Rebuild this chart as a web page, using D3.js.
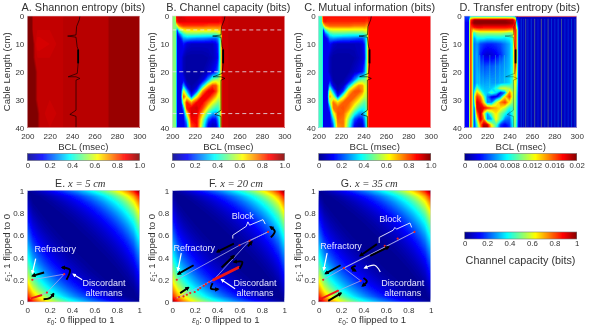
<!DOCTYPE html>
<html><head><meta charset="utf-8">
<script src="https://cdn.jsdelivr.net/npm/d3@7/dist/d3.min.js"></script>
<style>
html,body{margin:0;padding:0;background:#fff}
svg{display:block}
text{font-family:"Liberation Sans",Arial,sans-serif}
</style></head><body>
<svg id="chart" width="598" height="335"></svg>
<script>
// ---------- category / tick data ----------
const titles = ["A. Shannon entropy (bits)","B. Channel capacity (bits)","C. Mutual information  (bits)","D. Transfer entropy (bits)"];
const bclTicks = [200,220,240,260,280,300];
const cableTicks = [0,10,20,30,40];
const unitTicks = [0,0.2,0.4,0.6,0.8,1];
const barTicks = [0,0.2,0.4,0.6,0.8,1.0];
const teTicks = [0,0.004,0.008,0.012,0.016,0.02];
const dashedCable = [5,20,35];

// ---------- A: Shannon entropy (percent of 1 bit) ----------
const aCols = [200,204,205,207,209,211,220,232,243,244,272,273,300];
const aRows = [0,5,10,15,20,30,35,40];
const aGrid = [
[100,100,94,94,94,94,94,94,95,95,95,97,97],
[100,100,94,93,93,93,93,94,95,95,95,97,97],
[100,100,100,93,91,91,92,94,95,95,95,97,97],
[100,100,100,94,93,93,93,94,95,95,95,97,97],
[100,100,100,100,94,93,94,94,95,95,95,97,97],
[100,100,100,100,94,93,93,94,95,95,95,97,97],
[100,100,100,100,100,94,92,94,95,95,95,97,97],
[100,100,100,100,100,94,93,94,95,95,95,97,97]];

// ---------- B, C share the sampling (percent of 1 bit) ----------
const bcCols = [200,203,204,206,208,210,213,217,222,227,232,236,239,241,243,244,245,250,300];
const bcRows = [0,2,3.5,5,6.5,8,10,15,20,23,25,27,29,31,33,35,37,39,40];
const bGrid = [
[50,50,90,92,92,90,88,88,88,88,88,88,88,88,88,90,92,93,93],
[50,50,85,90,90,90,90,90,90,90,90,90,90,90,88,88,92,93,93],
[50,50,55,75,80,82,82,82,82,82,80,80,80,80,78,80,92,93,93],
[50,50,12,45,55,62,65,66,66,66,66,66,66,68,68,74,92,93,93],
[50,50,10,20,32,42,48,48,48,46,46,46,46,50,55,70,92,93,93],
[50,50,10,11,16,28,30,28,26,26,24,22,22,28,42,62,92,93,93],
[50,50,10,10,10,14,8,6,6,6,6,6,10,18,45,65,92,93,93],
[50,50,10,10,10,5,2,2,2,2,3,5,8,14,45,65,92,93,93],
[50,50,10,10,10,5,2,2,2,3,6,10,16,26,50,68,92,93,93],
[50,50,10,10,10,12,3,2,3,8,28,50,55,55,58,72,92,93,93],
[50,50,10,10,10,30,8,3,6,32,68,82,80,68,62,74,92,93,93],
[50,50,10,10,10,62,30,5,20,72,90,90,82,68,62,74,92,93,93],
[50,50,10,10,12,80,60,18,62,88,88,78,68,60,60,74,92,93,93],
[50,50,10,10,10,55,85,72,88,88,75,62,55,50,55,74,92,93,93],
[50,50,10,10,10,25,85,90,92,82,60,48,42,42,52,74,92,93,93],
[50,50,10,10,10,12,60,92,90,68,42,30,28,36,50,74,92,93,93],
[50,50,10,10,10,10,35,88,88,55,22,12,14,28,48,74,92,93,93],
[50,50,10,10,10,10,22,82,88,48,12,6,8,22,46,74,92,93,93],
[50,50,10,10,10,10,20,80,88,46,10,5,8,20,45,74,92,93,93]];
const cGrid = [
[43,43,87,87,87,87,87,87,87,87,87,87,87,87,87,87,87,87,87],
[43,43,82,86,84,84,84,84,84,84,84,84,84,84,82,82,87,87,87],
[43,43,50,72,76,78,78,78,78,78,76,76,76,76,72,74,87,87,87],
[43,43,12,42,52,58,60,60,60,60,60,60,60,62,62,68,87,87,87],
[43,43,10,20,30,40,44,44,44,42,42,42,42,46,50,66,87,87,87],
[43,43,10,11,15,26,28,26,24,24,22,20,20,26,38,58,87,87,87],
[43,43,10,10,10,13,7,5,5,5,5,5,9,16,42,60,87,87,87],
[43,43,10,10,10,5,2,2,2,2,3,5,7,13,42,60,87,87,87],
[43,43,10,10,10,5,2,2,2,3,6,9,14,24,46,62,87,87,87],
[43,43,10,10,10,12,3,2,3,8,26,46,50,50,54,68,87,87,87],
[43,43,10,10,10,28,8,3,6,30,62,74,72,62,58,70,87,87,87],
[43,43,10,10,10,58,28,5,18,66,80,80,74,62,58,70,87,87,87],
[43,43,10,10,12,72,56,16,58,78,78,70,62,56,56,70,87,87,87],
[43,43,10,10,10,50,76,66,78,78,68,58,50,46,50,70,87,87,87],
[43,43,10,10,10,24,76,78,80,74,56,44,40,40,48,70,87,87,87],
[43,43,10,10,10,12,56,80,78,62,40,28,26,34,46,70,87,87,87],
[43,43,10,10,10,10,34,78,76,50,20,12,14,26,44,70,87,87,87],
[43,43,10,10,10,10,22,74,76,44,12,6,8,20,42,70,87,87,87],
[43,43,10,10,10,10,20,72,76,42,10,5,8,18,42,70,87,87,87]];

// ---------- D: Transfer entropy (units of 1e-4 bits) ----------
const dCols = [200,204,205,206,208,209,211,214,217,220,224,228,232,236,240,243,245,246,248,250,300];
const dRows = [0,1.5,2.5,4,5,6,8,10,14,18,24,26,27.5,29,31,33,35,37,39,40];
const dGrid = [
[40,40,60,70,60,60,60,60,60,60,60,60,60,60,60,60,50,30,20,12,12],
[30,30,150,170,190,195,195,195,195,195,195,195,195,195,190,190,160,50,22,11,11],
[25,25,155,180,195,198,198,198,198,198,198,198,198,198,195,190,170,70,22,11,11],
[25,25,160,165,170,175,178,178,175,175,175,175,175,175,172,170,175,110,25,11,11],
[25,25,165,150,130,140,145,150,150,150,150,150,150,150,145,140,170,150,25,11,11],
[25,25,165,150,80,90,105,110,110,110,110,110,110,105,100,110,170,150,24,11,11],
[25,25,165,150,50,60,75,75,75,70,70,72,72,70,75,90,170,150,22,11,11],
[25,25,165,150,40,50,55,40,35,32,32,35,40,50,60,85,170,150,22,11,11],
[25,25,165,150,40,50,60,30,18,14,16,22,32,48,60,85,170,150,22,11,11],
[25,25,165,150,40,50,60,45,38,42,42,46,50,55,62,85,160,140,22,11,11],
[25,25,165,150,40,50,65,58,55,58,56,55,58,62,68,90,130,110,22,11,11],
[25,25,165,150,40,60,100,70,62,62,65,80,115,120,110,95,120,100,22,11,11],
[25,25,165,150,40,90,140,110,70,65,90,70,25,50,150,110,120,95,22,11,11],
[25,25,165,150,40,120,165,150,100,50,20,18,50,130,165,110,115,90,22,11,11],
[25,25,165,150,40,100,185,170,130,50,50,110,150,165,125,100,110,90,22,11,11],
[25,25,165,150,40,55,180,185,175,165,150,140,130,110,80,85,110,85,22,11,11],
[25,25,165,150,40,45,150,190,120,55,100,130,100,80,60,85,110,85,22,11,11],
[25,25,165,150,40,40,110,185,150,50,60,125,90,50,45,80,110,85,22,11,11],
[25,25,165,150,40,40,80,150,190,185,120,90,35,22,35,75,105,80,22,11,11],
[25,25,165,150,40,40,75,140,195,195,130,85,30,20,32,75,105,80,22,11,11]];
// vertical streaks of the noisy D map
const streakBcl = [213,216,222,227,231,235,250,252,254,256,259,262,265,268,271,274,277,280,283,286,289,292,295,298];
const streakFrom = [14,14,14,14,14,14,1,1,1,1,1,1,1,1,1,1,1,1,1,1,1,1,1,1];
const streakTo = [27,27,26,27,24,24,40,40,40,40,40,40,40,40,40,40,40,40,40,40,40,40,40,40];
const streakLevel = [85,80,85,90,80,85,60,45,110,50,55,110,45,120,50,110,55,50,60,110,50,45,60,55];

// ---------- conduction-block trace in A–D (BCL, cable) ----------
const blockBcl = [247,246.4,244,243.5,236,243.5,244.5,245.4,245.4,244.6,236.5,243.5,247,243.5,243.5,238,243.5,243.5];
const blockCable = [0,1.4,3.8,6.8,7.2,7.6,11,12,17,20.6,21.8,21.8,22.4,23,33.8,35.3,36,40];
const thickBcl = [245.4,245.4];
const thickCable = [12,17];

// ---------- E–G: channel capacity over (e0,e1), 0.05 steps, in millibits ----------
const capAxis = d3.range(21).map(i => i/20);
const capGrid = [
[1000,857,763,686,618,558,504,453,407,363,322,280,246,211,177,145,114,84,55,27,0],
[857,714,620,545,480,422,370,324,280,241,206,171,140,112,85,62,40,21,7,0,27],
[763,620,531,459,397,344,296,252,214,178,147,118,91,68,47,29,15,5,0,7,55],
[686,545,459,390,332,283,239,199,164,133,104,80,59,39,24,12,3,0,5,21,84],
[618,480,397,332,278,232,192,156,125,97,73,52,35,21,10,3,0,3,15,40,114],
[558,422,344,283,232,189,152,120,93,69,49,32,18,9,3,0,3,12,29,62,145],
[504,370,296,239,192,152,119,90,67,47,30,17,8,2,0,3,10,24,47,85,177],
[453,324,252,199,156,120,90,66,46,30,17,8,2,0,2,9,21,39,68,112,211],
[407,280,214,164,125,93,67,46,29,16,8,2,0,2,8,18,35,59,91,140,246],
[363,241,178,133,97,69,47,30,16,7,2,0,2,8,17,32,52,80,118,171,280],
[322,206,147,104,73,49,30,17,8,2,0,2,8,17,30,49,73,104,147,206,322],
[280,171,118,80,52,32,17,8,2,0,2,7,16,30,47,69,97,133,178,241,363],
[246,140,91,59,35,18,8,2,0,2,8,16,29,46,67,93,125,164,214,280,407],
[211,112,68,39,21,9,2,0,2,8,17,30,46,66,90,120,156,199,252,324,453],
[177,85,47,24,10,3,0,2,8,17,30,47,67,90,119,152,192,239,296,370,504],
[145,62,29,12,3,0,3,9,18,32,49,69,93,120,152,189,232,283,344,422,558],
[114,40,15,3,0,3,10,21,35,52,73,97,125,156,192,232,278,332,397,480,618],
[84,21,5,0,3,12,24,39,59,80,104,133,164,199,239,283,332,390,459,545,686],
[55,7,0,5,15,29,47,68,91,118,147,178,214,252,296,344,397,459,531,620,763],
[27,0,7,21,40,62,85,112,140,171,206,241,280,324,370,422,480,545,620,714,857],
[0,27,55,84,114,145,177,211,246,280,322,363,407,453,504,558,618,686,763,857,1000]];

// ---------- operating points (e0,e1) ----------
const ePath = [[.03,.03],[.175,.085],[.33,.25],[.045,.2]];
const eDots = [[.045,.2],[.33,.25],[.175,.085]];
const eStreak = [[.04,.035],[.125,.06]];
const fPath = [[.03,.03],[.37,.2],[.69,.55],[.855,.63],[.6,.51],[.04,.2]];
const fDots = [[.04,.2],[.6,.51],[.69,.55],[.855,.63],[.03,.03],[.06,.045],[.1,.05],[.13,.065],[.16,.08],[.2,.09],[.23,.11],[.25,.125],[.28,.145],[.3,.16],[.33,.18],[.37,.2]];
const fStreak = [[.37,.2],[.59,.31]];
const gPath = [[.015,.025],[.17,.1],[.375,.19],[.225,.305],[.04,.2]];
const gPath2 = [[.225,.305],[.855,.63]];
const gDots = [[.04,.2],[.225,.305],[.375,.19],[.17,.1],[.59,.505],[.705,.57],[.855,.63]];
const gStreak = [[.015,.025],[.17,.1]];

const eBlack = [[[.15,.265],[.045,.235]],[[.35,.2],[.38,.29],[.31,.31]],[[.145,.025],[.2,.035],[.235,.075]]];
const fBlack = [[[.19,.33],[.05,.25]],[[.55,.525],[.4,.45]],[[.07,.08],[.145,.13]],[[.44,.31],[.55,.415]],[[.675,.5],[.71,.54]],[[.88,.58],[.915,.635],[.875,.675]],[[.6,.3],[.625,.36],[.55,.36]],[[.36,.17],[.345,.12],[.41,.115]]];
const gBlack = [[[.52,.52],[.37,.415]],[[.46,.415],[.625,.495]],[[.195,.33],[.06,.255]],[[.085,.01],[.2,.08]],[[.33,.325],[.295,.305],[.33,.28]],[[.4,.215],[.43,.185],[.39,.145]]];
const eWhite = [[[.075,.39],[.045,.26]],[[.49,.2],[.41,.25]]];
const fWhite = [[[.08,.44],[.05,.285]],[[.56,.12],[.44,.2]]];
const gWhite = [[[.075,.44],[.045,.29]],[[.55,.27],[.5,.33],[.41,.305]]];
const fBrace = [[.54,.57],[.54,.6],[.66,.68],[.675,.72],[.69,.69],[.81,.74],[.83,.7]];
const gBrace = [[.54,.53],[.54,.58],[.665,.645],[.68,.67],[.695,.655],[.815,.71],[.83,.67]];

// ---------- layout ----------
const jet = d3.scaleLinear().domain([0,.125,.375,.625,.875,1])
  .range(["#00008f","#0000ff","#00ffff","#ffff00","#ff0000","#800000"]).clamp(true);
const svg = d3.select("#chart");
const defs = svg.append("defs");
const blur = defs.append("filter").attr("id","soft").attr("x",0).attr("y",0).attr("width","100%").attr("height","100%");
blur.append("feGaussianBlur").attr("stdDeviation",0.4);
function marker(id,color,size){
  defs.append("marker").attr("id",id).attr("viewBox","0 0 10 10").attr("refX",7).attr("refY",5)
    .attr("markerWidth",size).attr("markerHeight",size).attr("orient","auto-start-reverse").attr("markerUnits","strokeWidth")
    .append("path").attr("d","M0,0L10,5L0,10Z").attr("fill",color);
}
marker("ab","#000",2.4); marker("aw","#fff",3.4);
const root = svg.append("g").attr("filter","url(#soft)");
const inkText = "#333";
const panelW = 112, panelH = 111.5, rowTop = 16, rowBottomTop = 190.7;
const panelX = [27.3,172.3,318.7,464.7];

function heat(g,values,cols,rows,x,y,max,step){
  const n = cols.length, m = rows.length;
  const sx = d3.scaleLinear().domain(cols.map((_,i)=>i+.5)).range(cols.map(c=>x(c))).clamp(true);
  const sy = d3.scaleLinear().domain(rows.map((_,i)=>i+.5)).range(rows.map(r=>y(r))).clamp(true);
  const thr = d3.range(0,1+step/2,step);
  const contours = d3.contours().size([n,m]).thresholds(thr)(values.flat().map(v=>v/max));
  const path = d3.geoPath(d3.geoTransform({point(a,b){this.stream.point(sx(a),sy(b));}}));
  g.selectAll("path.c").data(contours).join("path").attr("class","c")
    .attr("d",path).attr("fill",d=>jet(d.value+step/2));
}
function axes(g,x,y,xTicks,yTicks,xf,yf){
  const b = g.append("g").attr("transform",`translate(0,${Math.max(...y.range())})`)
    .call(d3.axisBottom(x).tickValues(xTicks).tickSize(0).tickPadding(5.5).tickFormat(xf));
  const l = g.append("g").attr("transform",`translate(${x.range()[0]},0)`)
    .call(d3.axisLeft(y).tickValues(yTicks).tickSize(0).tickPadding(3).tickFormat(yf));
  for(const a of [b,l]){ a.select(".domain").remove(); a.selectAll("text").attr("font-size",8).attr("fill",inkText).style("font-family","Liberation Sans"); }
}
function frame(g,x0,y0,w,h,c){ g.append("rect").attr("x",x0).attr("y",y0).attr("width",w).attr("height",h).attr("fill","none").attr("stroke",c).attr("stroke-width",.6); }
function colorbar(g,x0,y0,ticks,max,fmt){
  const s = d3.scaleLinear().domain([0,max]).range([x0,x0+panelW]);
  const steps = d3.range(0,1,1/112);
  const bar = g.append("g");
  bar.selectAll("rect").data(steps).join("rect")
    .attr("x",d=>s(d*max)).attr("y",y0).attr("width",1.3).attr("height",7).attr("fill",d=>jet(d));
  frame(g,x0,y0,panelW,7,"#777");
  const a = g.append("g").attr("transform",`translate(0,${y0+7})`)
    .call(d3.axisBottom(s).tickValues(ticks).tickSize(0).tickPadding(1.5).tickFormat(fmt));
  a.select(".domain").remove();
  a.selectAll("text").attr("font-size",7.8).attr("fill",inkText).style("font-family","Liberation Sans");
}
const blockLine = (x,y)=>d3.line().x((_,i)=>x(blockBcl[i])).y((_,i)=>y(blockCable[i]));

// top row
const topGrids = [[aGrid,aCols,aRows,100,.01],[bGrid,bcCols,bcRows,100,.01],[cGrid,bcCols,bcRows,100,.01],[dGrid,dCols,dRows,200,.01]];
panelX.forEach((px,i)=>{
  const g = root.append("g");
  const x = d3.scaleLinear().domain([200,300]).range([px,px+panelW]);
  const y = d3.scaleLinear().domain([0,40]).range([rowTop,rowTop+panelH]);
  const [vals,cols,rows,max,step] = topGrids[i];
  heat(g,vals,cols,rows,x,y,max,step);
  if(i===3){
    g.selectAll("rect.st").data(streakBcl).join("rect").attr("class","st")
      .attr("x",d=>x(d)).attr("width",1)
      .attr("y",(_,k)=>y(streakFrom[k])).attr("height",(_,k)=>y(streakTo[k])-y(streakFrom[k]))
      .attr("fill",(_,k)=>jet(streakLevel[k]/200)).attr("opacity",.32);
    g.append("line").attr("x1",x(245)).attr("x2",x(300)).attr("y1",y(.2)).attr("y2",y(.2)).attr("stroke","#c03050").attr("stroke-width",1);
  }
  if(i===1){
    g.selectAll("line.dash").data(dashedCable).join("line").attr("class","dash")
      .attr("x1",x(200)).attr("x2",x(300)).attr("y1",d=>y(d)).attr("y2",d=>y(d))
      .attr("stroke","#e8e8f0").attr("stroke-width",1).attr("stroke-dasharray","4 3").attr("opacity",.8);
  }
  g.append("path").datum(blockBcl).attr("d",blockLine(x,y)).attr("fill","none").attr("stroke","#000").attr("stroke-width",i===3?.5:.7).attr("opacity",i===3?.6:.9);
  g.append("path").datum(thickBcl).attr("d",d3.line().x((_,k)=>x(thickBcl[k])).y((_,k)=>y(thickCable[k]))).attr("stroke","#000").attr("stroke-width",1.8);
  frame(g,px,rowTop,panelW,panelH,"#e8d0d8");
  axes(g,x,y,bclTicks,cableTicks,d3.format("d"),d3.format("d"));
  g.append("text").attr("x",px+panelW/2+(i===3?-1:i===2?-5:0)).attr("y",11).attr("text-anchor","middle").attr("font-size",10.9).attr("fill",inkText).text(titles[i]);
  g.append("text").attr("x",px+56).attr("y",149.5).attr("text-anchor","middle").attr("font-size",9.6).attr("fill",inkText).text("BCL (msec)");
  g.append("text").attr("transform",`translate(${px-17.5},${rowTop+panelH/2}) rotate(-90)`).attr("text-anchor","middle").attr("font-size",9.6).attr("fill",inkText).text("Cable Length (cm)");
  if(i<3) colorbar(g,px,153.5,barTicks,1,v=>v===0?"0":d3.format(".1f")(v));
  else colorbar(g,px,153.5,teTicks,.02,v=>v===0?"0":String(+v.toFixed(3)));
});
colorbar(root,464.7,232,unitTicks,1,v=>String(v));
root.append("text").attr("x",520.5).attr("y",264).attr("text-anchor","middle").attr("font-size",10.8).attr("fill",inkText).text("Channel capacity (bits)");

// bottom row
const bottom = [
 {label:"E. ",cm:"x = 5 cm",tx:53,px:panelX[0],dots:eDots,path:[ePath],streak:eStreak,sw:2,black:eBlack,white:eWhite,brace:null,block:null,refr:[.25,.45],disc:[.685,.145,.055]},
 {label:"F. ",cm:"x = 20 cm",tx:63.7,px:panelX[1],dots:fDots,path:[fPath],streak:fStreak,sw:3,black:fBlack,white:fWhite,brace:fBrace,block:[.63,.748],refr:[.196,.46],disc:[.738,.145,.055]},
 {label:"G. ",cm:"x = 35 cm",tx:50.6,px:panelX[2],dots:gDots,path:[gPath,gPath2],streak:gStreak,sw:2,black:gBlack,white:gWhite,brace:gBrace,block:[.64,.72],refr:[.2,.476],disc:[.75,.145,.055]}
];
bottom.forEach(p=>{
  const g = root.append("g");
  const x = d3.scaleLinear().domain([0,1]).range([p.px,p.px+panelW]);
  const y = d3.scaleLinear().domain([0,1]).range([rowBottomTop+111.3,rowBottomTop]);
  heat(g,capGrid,capAxis,capAxis,x,y,1000,.01);
  frame(g,p.px,rowBottomTop,panelW,111.3,"#cdd4ee");
  const ln = d3.line().x(d=>x(d[0])).y(d=>y(d[1]));
  p.path.forEach((q,k)=>g.append("path").datum(q).attr("d",ln).attr("fill","none").attr("stroke","#a8a8e8").attr("stroke-width",k?1.1:.8));
  g.append("path").datum(p.streak).attr("d",ln).attr("stroke","#f01818").attr("stroke-width",p.sw).attr("stroke-linecap","round");
  g.selectAll("circle").data(p.dots).join("circle").attr("cx",d=>x(d[0])).attr("cy",d=>y(d[1])).attr("r",1.1).attr("fill","#ee2222");
  const curve = d3.line().x(d=>x(d[0])).y(d=>y(d[1])).curve(d3.curveCatmullRom);
  p.black.forEach(q=>g.append("path").datum(q).attr("d",curve).attr("fill","none").attr("stroke","#000").attr("stroke-width",1.9).attr("marker-end","url(#ab)"));
  p.white.forEach(q=>g.append("path").datum(q).attr("d",curve).attr("fill","none").attr("stroke","#fff").attr("stroke-width",1.2).attr("marker-end","url(#aw)"));
  if(p.brace) g.append("path").datum(p.brace).attr("d",ln).attr("fill","none").attr("stroke","#f4f4ff").attr("stroke-width",.9);
  const lab = (t,c)=>g.append("text").attr("x",x(c[0])).attr("y",y(c[1])).attr("text-anchor","middle").attr("font-size",9).attr("fill","#e6e6ff").text(t);
  lab("Refractory",p.refr);
  lab("Discordant",[p.disc[0],p.disc[1]]);
  lab("alternans",[p.disc[0],p.disc[2]]);
  if(p.block) lab("Block",p.block);
  axes(g,x,y,unitTicks,unitTicks,d3.format(""),d3.format(""));
  const t = g.append("text").attr("x",p.px+p.tx).attr("y",186.5).attr("text-anchor","middle").attr("font-size",10.6).attr("fill",inkText);
  t.append("tspan").text(p.label);
  t.append("tspan").attr("font-style","italic").style("font-family","Liberation Serif").text(p.cm);
  const xl = g.append("text").attr("x",p.px+53.5).attr("y",323).attr("text-anchor","middle").attr("font-size",9.6).attr("fill",inkText);
  xl.append("tspan").attr("font-style","italic").style("font-family","Liberation Serif").text("ε");
  xl.append("tspan").attr("dy",2).attr("font-size",6.5).text("0");
  xl.append("tspan").attr("dy",-2).text(": 0 flipped to 1");
  const yl = g.append("text").attr("transform",`translate(${p.px-17.5},${rowBottomTop+57}) rotate(-90)`).attr("text-anchor","middle").attr("font-size",9.6).attr("fill",inkText);
  yl.append("tspan").attr("font-style","italic").style("font-family","Liberation Serif").text("ε");
  yl.append("tspan").attr("dy",2).attr("font-size",6.5).text("1");
  yl.append("tspan").attr("dy",-2).text(": 1 flipped to 0");
});
</script>
</body></html>
